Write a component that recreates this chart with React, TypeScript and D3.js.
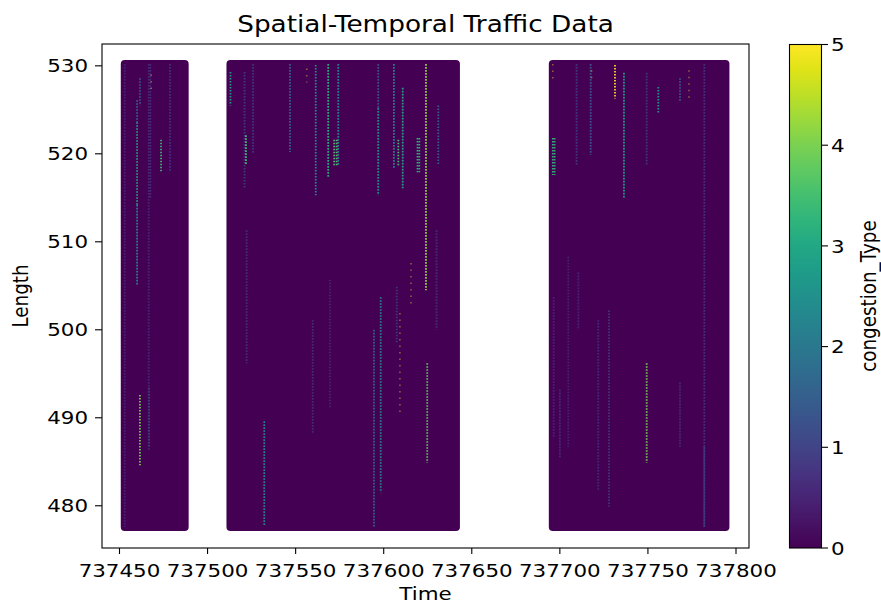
import React from "react";
import * as d3 from "d3";

// Observation blocks (time span of recorded data) and the length span
const blockStart = [737453, 737513, 737696];
const blockEnd = [737487, 737641, 737794];
const lengthSpan = [477.6, 530.2];

// Congestion streaks: time, length from, length to, congestion value, sparse (isolated points)
const streakTime = [
  737453, 737466.6, 737467.5, 737478.7, 737466.8, 737460, 737460, 737460, 737461.6, 737473.6, 737461.6, 737468,
  737521.0, 737525.8, 737522.2, 737559.7, 737569.5, 737594.5, 737607.4, 737630.0, 737596.9, 737546.8, 737631.0,
  737513.0, 737521.8, 737561.4, 737568.5, 737571.9, 737573.3, 737574.2, 737596.9, 737605.8, 737608.3, 737610.8,
  737619.2, 737620.2, 737624.0, 737532.2, 737598.3, 737624.7, 737556.3, 737615.5, 737609.2,
  737782.0, 737782.0, 737709.5, 737717.5, 737749.3, 737768.2, 737696.5, 737700.0, 737704.8, 737710.5, 737721.8,
  737727.9, 737768.2, 737696.0, 737697.0, 737736.4, 737755.9, 737749.3, 737696.0, 737718.0, 737731.3, 737773.3,
];
const streakFrom = [
  477.6, 486.3, 515.0, 517.9, 486.6, 523.6, 505.1, 514.2, 525.5, 517.9, 484.6, 527.0,
  516.1, 520.0, 496.2, 488.3, 491.2, 477.6, 498.5, 500.0, 525.2, 520.2, 518.7,
  525.5, 518.7, 515.3, 517.3, 518.7, 518.7, 518.7, 515.3, 518.4, 518.7, 516.1,
  517.9, 517.9, 504.5, 477.8, 481.5, 484.9, 528.1, 502.6, 490.5,
  477.6, 477.6, 518.7, 519.9, 518.7, 525.9, 487.8, 485.5, 486.7, 500.0, 481.8,
  479.9, 486.7, 517.6, 517.6, 515.0, 524.7, 484.9, 528.2, 528.0, 526.3, 525.9,
];
const streakTo = [
  530.2, 530.2, 530.2, 530.2, 493.4, 526.1, 514.2, 523.6, 528.6, 521.6, 492.6, 529.0,
  529.3, 530.2, 511.3, 501.1, 505.7, 500.0, 504.9, 511.3, 530.2, 530.2, 525.5,
  529.3, 522.1, 530.1, 530.2, 521.6, 521.6, 530.2, 525.2, 530.2, 521.6, 527.5,
  521.8, 521.8, 530.2, 489.6, 503.7, 496.2, 529.7, 507.6, 501.9,
  530.2, 486.7, 530.2, 530.2, 529.2, 528.6, 503.7, 493.2, 508.3, 506.5, 501.1,
  502.2, 494.0, 521.8, 521.8, 529.2, 527.6, 496.2, 530.2, 529.5, 530.1, 529.5,
];
const streakValue = [
  0.6, 0.7, 0.8, 0.9, 1.0, 1.8, 2.2, 3.0, 1.5, 3.4, 4.0, 5,
  1.2, 1.0, 0.8, 0.8, 0.7, 1.6, 1.1, 0.8, 1.3, 1.5, 1.6,
  2.8, 3.5, 2.6, 3.2, 3.6, 3.6, 2.3, 2.5, 2.2, 3.5, 3.0,
  3.3, 3.3, 4.2, 2.3, 2.5, 3.8, 5, 5, 5,
  0.9, 1.2, 1.0, 1.3, 1.0, 1.6, 0.8, 0.8, 0.7, 0.7, 0.7,
  1.1, 0.8, 3.3, 3.3, 2.8, 2.7, 4.0, 5, 5, 5, 5,
];
const streakSparse = [
  0, 0, 0, 0, 0, 0, 0, 0, 0, 0, 0, 1,
  0, 0, 0, 0, 0, 0, 0, 0, 0, 0, 0,
  0, 0, 0, 0, 0, 0, 0, 0, 0, 0, 0,
  0, 0, 0, 0, 0, 0, 1, 1, 1,
  0, 0, 0, 0, 0, 0, 0, 0, 0, 0, 0,
  0, 0, 0, 0, 0, 0, 0, 1, 1, 0, 1,
];

const xTicks = [737450, 737500, 737550, 737600, 737650, 737700, 737750, 737800];
const yTicks = [480, 490, 500, 510, 520, 530];
const cTicks = [0, 1, 2, 3, 4, 5];

const FONT = "DejaVu Sans";
const SX = 1.17;

function T(props: any) {
  const { x, y, size, anchor, rotate, children } = props;
  const tr = `translate(${x},${y}) scale(${SX},1)` + (rotate ? ` rotate(${rotate})` : "");
  return (
    <text transform={tr} fontFamily={FONT} fontSize={size} textAnchor={anchor || "middle"} fill="#000">
      {children}
    </text>
  );
}

export default function App() {
  const x = d3.scaleLinear().domain([737440.07, 737807.38]).range([102, 749]);
  const y = d3.scaleLinear().domain([475.2, 532.48]).range([548, 44]);
  const color = d3.scaleSequential(d3.interpolateViridis).domain([0, 5]);
  const cy = d3.scaleLinear().domain([0, 5]).range([548, 44.5]);
  const r = 4;

  const streaks = streakTime
    .map((t, i) => ({ t, a: streakFrom[i], b: streakTo[i], v: streakValue[i], s: streakSparse[i] }))
    .sort((p, q) => p.v - q.v);

  const stops = d3.range(0, 21).map((i) => i / 20);

  return (
    <svg width={881} height={605} style={{ position: "absolute", left: 0, top: 0, background: "#fff" }}>
      <defs>
        <linearGradient id="cbar" x1="0" y1="1" x2="0" y2="0">
          {stops.map((s) => (
            <stop key={s} offset={s} stopColor={color(s * 5)} />
          ))}
        </linearGradient>
      </defs>
      <rect x={0} y={0} width={881} height={605} fill="#fff" />

      {/* data blocks */}
      {blockStart.map((t0, i) => (
        <rect
          key={"b" + i}
          x={x(t0) - r}
          y={y(lengthSpan[1]) - r}
          width={x(blockEnd[i]) - x(t0) + 2 * r}
          height={y(lengthSpan[0]) - y(lengthSpan[1]) + 2 * r}
          rx={r}
          fill={color(0)}
        />
      ))}

      {/* streaks */}
      {streaks.map((d, i) => (
        <line
          key={"s" + i}
          x1={x(d.t)}
          x2={x(d.t)}
          y1={y(d.b)}
          y2={y(d.a)}
          stroke={color(d.v)}
          strokeWidth={d.s ? 1.6 : 1.8}
          strokeDasharray={d.s ? "1.5 5" : "1.6 1.4"}
          opacity={d.s ? 0.4 : d.v < 1.3 ? 0.75 : 0.95}
        />
      ))}

      {/* axes frame */}
      <rect x={102} y={44} width={647} height={504} fill="none" stroke="#000" strokeWidth={1.1} />

      {/* x ticks */}
      {xTicks.map((t) => (
        <g key={"xt" + t}>
          <line x1={x(t)} x2={x(t)} y1={548} y2={554} stroke="#000" strokeWidth={1.1} />
          <T x={x(t)} y={576.5} size={18.3}>
            {t}
          </T>
        </g>
      ))}
      {/* y ticks */}
      {yTicks.map((t) => (
        <g key={"yt" + t}>
          <line x1={95} x2={102} y1={y(t)} y2={y(t)} stroke="#000" strokeWidth={1.1} />
          <T x={88} y={y(t) + 6.6} size={18.3} anchor="end">
            {t}
          </T>
        </g>
      ))}

      <T x={425.5} y={599.5} size={18.3}>
        Time
      </T>
      <T x={28} y={296} size={18.3} rotate={-90}>
        Length
      </T>
      <T x={425.5} y={32} size={22.5}>
        Spatial-Temporal Traffic Data
      </T>

      {/* colorbar */}
      <rect x={789.5} y={44.5} width={32} height={503.5} fill="url(#cbar)" stroke="#000" strokeWidth={1.1} />
      {cTicks.map((t) => (
        <g key={"ct" + t}>
          <line x1={821.5} x2={828} y1={cy(t)} y2={cy(t)} stroke="#000" strokeWidth={1.1} />
          <T x={831} y={cy(t) + 6.6} size={18.3} anchor="start">
            {t}
          </T>
        </g>
      ))}
      <T x={876} y={296} size={18.3} rotate={-90}>
        congestion_Type
      </T>
    </svg>
  );
}
